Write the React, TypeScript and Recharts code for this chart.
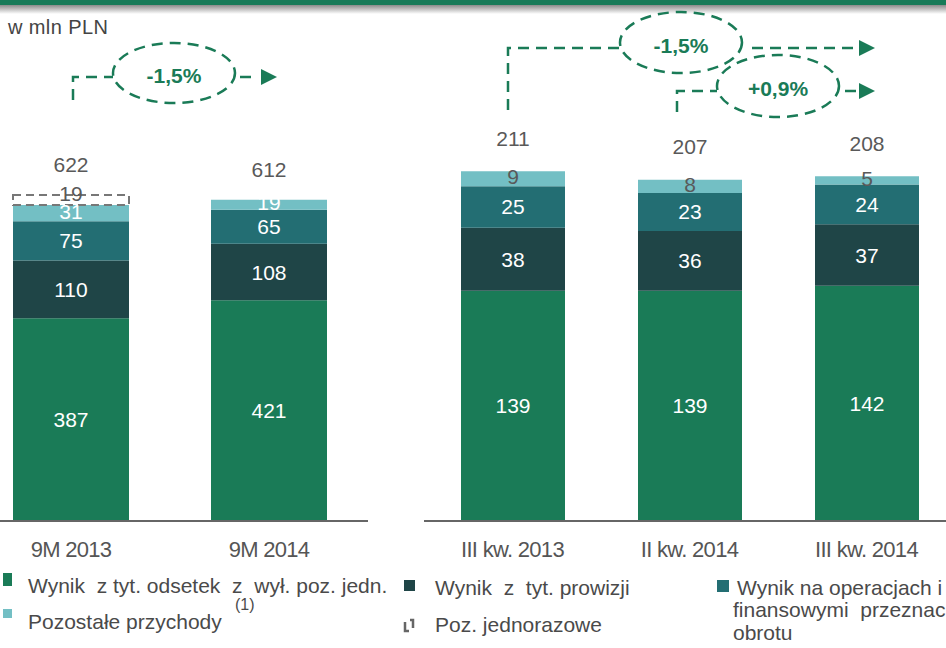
import { BarChart, Bar, XAxis, YAxis, LabelList } from 'recharts';

const leftCategories = ['9M 2013', '9M 2014'];
const leftOdsetki = [387, 421];
const leftProwizje = [110, 108];
const leftOperacje = [75, 65];
const leftPozostale = [31, 19];
const leftJednorazowe = [19, 0];
const leftTotals = [622, 612];

const rightCategories = ['III kw. 2013', 'II kw. 2014', 'III kw. 2014'];
const rightOdsetki = [139, 139, 142];
const rightProwizje = [38, 36, 37];
const rightOperacje = [25, 23, 24];
const rightPozostale = [9, 8, 5];
const rightTotals = [211, 207, 208];

const GREEN = '#1a7b57';
const DARK = '#1f4547';
const TEAL = '#236e73';
const LIGHT = '#73bfc4';
const GRAY_TXT = '#595959';
const FONT = '"Liberation Sans", Arial, sans-serif';

const leftData = leftCategories.map((name, i) => ({
  name,
  odsetki: leftOdsetki[i],
  prowizje: leftProwizje[i],
  operacje: leftOperacje[i],
  pozostale: leftPozostale[i],
  jednorazowe: leftJednorazowe[i],
  total: leftTotals[i],
}));

const rightData = rightCategories.map((name, i) => ({
  name,
  odsetki: rightOdsetki[i],
  prowizje: rightProwizje[i],
  operacje: rightOperacje[i],
  pozostale: rightPozostale[i],
  total: rightTotals[i],
}));

function box(props: any) {
  const vb = props.viewBox || {};
  return {
    x: props.x ?? vb.x,
    y: props.y ?? vb.y,
    width: props.width ?? vb.width,
    height: props.height ?? vb.height,
  };
}

const segLabel = (color: string, dy = 0) => (props: any) => {
  const { x, y, width, height } = box(props);
  if (!props.value) return null;
  return (
    <text
      x={x + width / 2}
      y={y + height / 2 + dy}
      textAnchor="middle"
      dominantBaseline="central"
      fill={color}
      fontSize={21}
      fontFamily={FONT}
    >
      {props.value}
    </text>
  );
};

const numText = (x: number, y: number, value: any) => (
  <text
    x={x}
    y={y}
    textAnchor="middle"
    dominantBaseline="central"
    fill={GRAY_TXT}
    fontSize={21}
    fontFamily={FONT}
  >
    {value}
  </text>
);

// right chart: total sits above the top segment
const rightTotalLabel = (props: any) => {
  const { x, y, width } = box(props);
  return numText(x + width / 2, y - 33, props.value);
};

// left chart: label drawn from the "pozostale" segment, lifted over the dashed one-off box
const leftTotalLabel = (props: any) => {
  const { x, y, width, height } = box(props);
  const i = leftTotals.indexOf(props.value);
  const perUnit = height / leftPozostale[i];
  const top = y - leftJednorazowe[i] * perUnit;
  return numText(x + width / 2, top - 30, props.value);
};

const tick = (props: any) => (
  <text
    x={props.x}
    y={props.y}
    dy={36}
    textAnchor="middle"
    fill="#555"
    fontSize={22}
    letterSpacing={-0.7}
    fontFamily={FONT}
  >
    {props.payload.value}
  </text>
);

function Annotations() {
  const c = GREEN;
  const dash = { stroke: c, strokeWidth: 2.5, strokeDasharray: '11 7', fill: 'none' };
  const pct = { fill: c, fontSize: 21, fontWeight: 700, fontFamily: FONT, textAnchor: 'middle' as const, dominantBaseline: 'central' as const };
  return (
    <g>
      {/* left */}
      <path d="M73,100 V77 H113" {...dash} />
      <ellipse cx={174} cy={73} rx={61} ry={30} {...dash} />
      <path d="M240,77 H258" {...dash} />
      <polygon points="261,69 277,77 261,85" fill={c} />
      <text x={174} y={75} {...pct}>-1,5%</text>
      {/* right */}
      <path d="M508,110 V48 H620" {...dash} />
      <ellipse cx={681} cy={42.5} rx={61} ry={30.5} {...dash} />
      <path d="M752,48 H857" {...dash} />
      <polygon points="859,40 875,48 859,56" fill={c} />
      <text x={681} y={45} {...pct}>-1,5%</text>
      <path d="M677,112 V91 H717" {...dash} />
      <ellipse cx={778} cy={86} rx={61} ry={31} {...dash} />
      <path d="M845,91 H857" {...dash} />
      <polygon points="859,83 875,91 859,99" fill={c} />
      <text x={778} y={88} {...pct}>+0,9%</text>
    </g>
  );
}

function Legend() {
  const t = { fill: '#4a4a4a', fontSize: 21, fontFamily: FONT, style: { whiteSpace: 'pre' as const } };
  return (
    <g>
      <rect x={3} y={573} width={9} height={13} fill={GREEN} />
      <text x={28} y={593} {...t}>{'Wynik  z tyt. odsetek  z  wył. poz. jedn.'}</text>
      <rect x={3} y={609} width={9} height={9} fill={LIGHT} />
      <text x={28} y={629} {...t}>Pozostałe przychody</text>
      <text x={235} y={610} {...t} fontSize={16}>(1)</text>
      <rect x={404} y={580} width={11} height={11} fill={DARK} />
      <text x={435} y={595} {...t}>{'Wynik  z  tyt. prowizji'}</text>
      <path d="M405,622 V631 H409 M410,620 H413 V628" stroke="#666" strokeWidth={2.5} fill="none" />
      <text x={435} y={632} {...t}>Poz. jednorazowe</text>
      <rect x={717} y={580} width={12} height={12} fill={TEAL} />
      <text x={737} y={595} {...t}>Wynik na operacjach i</text>
      <text x={733} y={617} {...t}>{'finansowymi  przeznac'}</text>
      <text x={733} y={640} {...t}>obrotu</text>
    </g>
  );
}

export default function App() {
  return (
    <div
      style={{
        position: 'absolute',
        left: 0,
        top: 0,
        width: 946,
        height: 648,
        overflow: 'hidden',
        background: '#fff',
        fontFamily: FONT,
      }}
    >
      <div style={{ position: 'absolute', left: -28, top: 0 }}>
        <BarChart width={396} height={580} data={leftData} margin={{ top: 0, right: 0, bottom: 0, left: 0 }}>
          <XAxis
            dataKey="name"
            height={59}
            axisLine={{ stroke: '#666', strokeWidth: 2 }}
            tickLine={false}
            tickSize={0}
            tickMargin={0}
            tick={tick}
            interval={0}
          />
          <YAxis hide domain={[0, 994]} />
          <Bar dataKey="odsetki" stackId="a" fill={GREEN} barSize={116} isAnimationActive={false}>
            <LabelList dataKey="odsetki" content={segLabel('#fff')} />
          </Bar>
          <Bar dataKey="prowizje" stackId="a" fill={DARK} barSize={116} isAnimationActive={false}>
            <LabelList dataKey="prowizje" content={segLabel('#fff')} />
          </Bar>
          <Bar dataKey="operacje" stackId="a" fill={TEAL} barSize={116} isAnimationActive={false}>
            <LabelList dataKey="operacje" content={segLabel('#fff')} />
          </Bar>
          <Bar dataKey="pozostale" stackId="a" fill={LIGHT} barSize={116} isAnimationActive={false}>
            <LabelList dataKey="pozostale" content={segLabel('#fff', -2)} />
            <LabelList dataKey="total" content={leftTotalLabel} />
          </Bar>
          <Bar
            dataKey="jednorazowe"
            stackId="a"
            fill="#fff"
            stroke="#777"
            strokeWidth={2}
            strokeDasharray="8 5"
            barSize={116}
            isAnimationActive={false}
          >
            <LabelList dataKey="jednorazowe" content={segLabel(GRAY_TXT, -6)} />
          </Bar>
        </BarChart>
      </div>

      <div style={{ position: 'absolute', left: 424, top: 0 }}>
        <BarChart width={531} height={580} data={rightData} margin={{ top: 0, right: 0, bottom: 0, left: 0 }}>
          <XAxis
            dataKey="name"
            height={59}
            axisLine={{ stroke: '#666', strokeWidth: 2 }}
            tickLine={false}
            tickSize={0}
            tickMargin={0}
            tick={tick}
            interval={0}
          />
          <YAxis hide domain={[0, 314.4]} />
          <Bar dataKey="odsetki" stackId="b" fill={GREEN} barSize={104} isAnimationActive={false}>
            <LabelList dataKey="odsetki" content={segLabel('#fff')} />
          </Bar>
          <Bar dataKey="prowizje" stackId="b" fill={DARK} barSize={104} isAnimationActive={false}>
            <LabelList dataKey="prowizje" content={segLabel('#fff')} />
          </Bar>
          <Bar dataKey="operacje" stackId="b" fill={TEAL} barSize={104} isAnimationActive={false}>
            <LabelList dataKey="operacje" content={segLabel('#fff')} />
          </Bar>
          <Bar dataKey="pozostale" stackId="b" fill={LIGHT} barSize={104} isAnimationActive={false}>
            <LabelList dataKey="pozostale" content={segLabel(GRAY_TXT, -2)} />
            <LabelList dataKey="total" content={rightTotalLabel} />
          </Bar>
        </BarChart>
      </div>

      <svg
        width={946}
        height={648}
        style={{ position: 'absolute', left: 0, top: 0, pointerEvents: 'none' }}
      >
        <defs>
          <linearGradient id="shadow" x1="0" y1="0" x2="0" y2="1">
            <stop offset="0" stopColor="#8a8a8a" />
            <stop offset="1" stopColor="#ffffff" />
          </linearGradient>
        </defs>
        <rect x={0} y={0} width={946} height={5} fill="#177a58" />
        <rect x={0} y={5} width={946} height={9} fill="url(#shadow)" />
        <text x={8} y={34} fill="#444" fontSize={20} letterSpacing={0.4} fontFamily={FONT}>
          w mln PLN
        </text>
        <Annotations />
        <Legend />
      </svg>
    </div>
  );
}
